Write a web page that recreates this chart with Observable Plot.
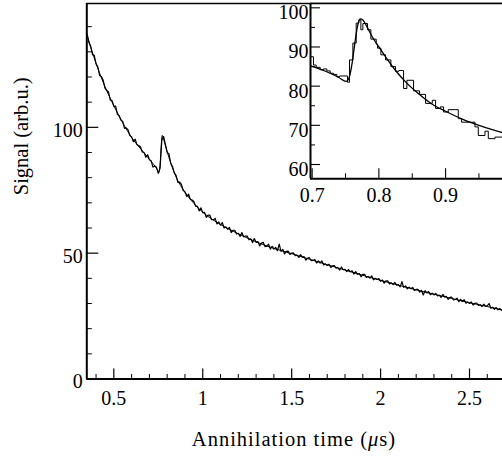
<!DOCTYPE html>
<html><head><meta charset="utf-8">
<script src="https://cdn.jsdelivr.net/npm/d3@7"></script>
<script src="https://cdn.jsdelivr.net/npm/@observablehq/plot@0.6"></script>
<style>
body{margin:0;background:#fff;}
#wrap{position:relative;width:502px;height:459px;overflow:hidden;font-family:"Liberation Serif",serif;color:#000;}
#main{position:absolute;left:0;top:0;}
#inset{position:absolute;left:250px;top:0;}
#xtitle{position:absolute;left:86px;top:420px;width:416px;height:39px;line-height:39px;text-align:center;font-size:20.5px;letter-spacing:1px;}
</style></head>
<body>
<div id="wrap"><div id="main"></div><div id="inset"></div><div id="xtitle">Annihilation time (<i>μ</i>s)</div></div>
<script>
// ---- Main panel data (bins every 0.01 µs starting at 0.35 µs) ----
const mainStart = 0.35, mainStep = 0.01;
const mainSignal = [
137.1,133.7,132.2,128.9,128.6,125.2,124.0,120.6,120.2,118.8,
115.6,114.6,114.1,110.8,110.6,108.3,108.4,105.2,104.6,102.8,
102.4,99.6,99.8,99.0,96.7,96.2,94.3,95.3,93.1,92.8,
92.2,90.2,90.0,88.1,89.1,87.1,86.7,84.2,84.6,84.1,
81.7,83.8,95.0,96.3,93.2,90.0,89.5,85.6,84.4,81.9,
80.9,78.1,78.2,77.3,74.9,74.4,72.5,73.5,71.4,71.1,
70.5,68.6,68.6,66.8,68.0,66.1,66.2,64.2,65.1,65.1,
63.3,63.3,63.8,61.6,62.4,61.1,62.2,60.0,60.4,59.5,
60.2,58.2,59.1,59.1,57.6,57.9,56.6,58.2,56.5,56.8,
56.8,55.3,55.7,54.2,55.8,54.3,54.6,52.9,54.0,54.3,
52.6,52.8,53.6,51.6,52.7,51.6,52.3,51.0,53.6,50.7,
51.5,49.7,50.7,50.8,49.5,50.0,50.1,49.0,49.2,48.3,
49.4,48.4,48.6,47.2,48.0,48.2,47.0,47.1,47.5,46.1,
46.9,46.1,46.9,45.3,45.7,45.1,45.6,44.3,45.0,45.1,
44.0,44.2,43.3,44.5,43.4,43.6,42.7,43.5,42.6,43.0,
41.7,42.7,41.6,41.9,40.6,41.6,41.6,40.3,40.7,40.1,
41.0,39.4,40.0,39.5,39.9,38.8,39.3,38.1,39.0,39.0,
37.8,38.2,37.5,38.4,37.3,37.5,36.6,38.7,36.4,37.0,
35.8,36.5,35.9,36.4,35.2,35.6,35.6,34.5,35.2,33.4,
35.1,34.2,34.8,33.5,34.1,33.4,34.0,33.0,33.3,32.4,
33.6,32.6,32.8,31.6,32.4,32.5,31.4,31.6,32.1,30.7,
31.6,30.8,31.5,30.1,30.6,30.0,30.6,29.4,30.1,30.2,
29.2,29.5,28.8,29.7,28.9,29.1,30.0,28.1,28.5,27.7,
28.4,27.5,28.0,27.3
];
const fitTime = [0.348,0.40,0.45,0.50,0.55,0.60,0.65,0.70,0.75,0.752,0.76,0.765,0.772,0.78,0.80,0.85,0.90,0.95,1.00,1.10,1.20,1.30,1.40,1.50,1.60,1.70,1.80,1.90,2.00,2.10,2.20,2.30,2.40,2.50,2.60,2.686];
const fitSignal = [136.8,125.4,116.2,108.6,101.8,96.0,91.5,87.3,82.3,82.0,85.0,91.0,96.8,95.2,90.3,80.3,74.2,69.8,66.3,61.4,57.7,54.5,51.9,49.8,47.6,45.4,43.3,41.2,39.2,37.3,35.4,33.7,32.0,30.3,28.8,27.4];

// ---- Inset data ----
const insetHistTime = [0.6975,0.702,0.706,0.712,0.717,0.722,0.727,0.732,0.737,0.741,0.753,0.756,0.761,0.766,0.770,0.773,0.776,0.783,0.788,0.796,0.798,0.803,0.810,0.818,0.825,0.830,0.837,0.842,0.852,0.861,0.870,0.880,0.885,0.892,0.897,0.904,0.919,0.924,0.944,0.949,0.959,0.964,0.974,0.986];
const insetHistSignal = [87.5,85.4,84.8,84.2,84.4,83.9,83.3,83.0,82.4,82.6,81.0,86.7,91.0,96.1,96.9,94.4,96.0,94.4,92.0,90.7,89.7,88.0,86.7,85.0,83.8,84.0,79.4,81.5,78.8,77.9,75.6,76.4,74.3,74.7,73.4,74.0,71.7,70.8,69.6,67.4,68.5,66.6,67.0,67.0];
const insetFitTime = [0.6975,0.72,0.74,0.751,0.756,0.760,0.764,0.768,0.772,0.776,0.782,0.79,0.80,0.81,0.825,0.84,0.86,0.88,0.90,0.925,0.95,0.97,0.986];
const insetFitSignal = [85.2,83.8,82.2,81.2,82.5,86.0,91.0,95.3,97.2,96.9,95.2,92.6,90.0,87.5,84.0,81.1,78.0,75.4,73.6,71.6,70.0,68.9,68.1];

// ---- Ticks ----
const xMajor = [0.5,1,1.5,2,2.5];
const xMinor = [0.4,0.6,0.7,0.8,0.9,1.1,1.2,1.3,1.4,1.6,1.7,1.8,1.9,2.1,2.2,2.3,2.4,2.6];
const yMajor = [0,50,100];
const yMinor = [10,20,30,40,60,70,80,90,110,120,130,140];
const insetXMajor = [0.7,0.8,0.9];
const insetXMinor = [0.75,0.85,0.95];
const insetYMajor = [60,70,80,90,100];
const insetYMinor = [65,75,85,95];

const mainData = mainSignal.map((v,i)=>({t:+(mainStart+i*mainStep).toFixed(2), v}));
const fitData = fitTime.map((t,i)=>({t, v:fitSignal[i]}));
const histData = insetHistTime.map((t,i)=>({t, v:insetHistSignal[i]}));
const insetFit = insetFitTime.map((t,i)=>({t, v:insetFitSignal[i]}));

const font = {fontFamily:"Liberation Serif, serif", fontSize:"20px", background:"transparent", color:"#000", overflow:"visible"};

// Main plot
const W = 502, H = 420, mL = 86.3, mT = 3, mB = H - 378.5, mR = 0;
const xD = [0.348, 2.6855], yD = [0, 149.2];
const iw = W - mL - mR, ih = H - mT - mB;
const main = Plot.plot({
  width: W, height: H, marginLeft: mL, marginTop: mT, marginBottom: mB, marginRight: mR,
  style: font,
  x: {domain: xD}, y: {domain: yD},
  marks: [
    Plot.ruleX(xMajor, {x: d=>d, insetTop: ih - 10, strokeWidth: 1.2}),
    Plot.ruleX(xMinor, {x: d=>d, insetTop: ih - 4.5, strokeWidth: 1}),
    Plot.ruleY(yMajor, {y: d=>d, insetRight: iw - 12, strokeWidth: 1.2}),
    Plot.ruleY(yMinor, {y: d=>d, insetRight: iw - 5.5, strokeWidth: 1}),
    Plot.ruleX([xD[0]], {strokeWidth: 2}),
    Plot.ruleY([yD[0]], {strokeWidth: 2}),
    Plot.ruleY([yD[1]], {strokeWidth: 1.3}),
    Plot.axisX(xMajor, {tickSize: 0, tickPadding: 12, tickFormat: d=>String(d), label: null}),
    Plot.axisY(yMajor, {tickSize: 0, tickPadding: 4, dy: 3, tickFormat: d=>String(d), label: null}),
    Plot.line(fitData, {x:"t", y:"v", curve:"monotone-x", stroke:"#000", strokeWidth: 1, clip: true}),
    Plot.line(mainData, {x:"t", y:"v", stroke:"#000", strokeWidth: 1.2, clip: true}),
    Plot.text(["Signal (arb.u.)"], {text: d=>d, frameAnchor:"left", rotate:-90, dx:-65, dy:4, fontSize: 20.5})
  ]
});
document.getElementById("main").appendChild(main);

// Inset plot
const IW = 252, IH = 210, iL = 60, iT = 3, iB = IH - 178.3;
const ixD = [0.6975, 0.9853], iyD = [56.35, 101.1];
const iiw = IW - iL, iih = IH - iT - iB;
const inset = Plot.plot({
  width: IW, height: IH, marginLeft: iL, marginTop: iT, marginBottom: iB, marginRight: 0,
  style: font,
  x: {domain: ixD}, y: {domain: iyD},
  marks: [
    Plot.frame({fill: "white", stroke: null}),
    Plot.line(insetFit, {x:"t", y:"v", curve:"monotone-x", stroke:"#000", strokeWidth: 1.3, clip: true}),
    Plot.line(histData, {x:"t", y:"v", curve:"step-after", stroke:"#000", strokeWidth: 1, clip: true}),
    Plot.ruleX(insetXMajor, {x: d=>d, insetTop: iih - 10, strokeWidth: 1.1}),
    Plot.ruleX(insetXMinor, {x: d=>d, insetTop: iih - 5, strokeWidth: 1}),
    Plot.ruleY(insetYMajor, {y: d=>d, insetRight: iiw - 10, strokeWidth: 1.1}),
    Plot.ruleY(insetYMinor, {y: d=>d, insetRight: iiw - 5, strokeWidth: 1}),
    Plot.ruleX([ixD[0]], {strokeWidth: 2}),
    Plot.ruleY([iyD[0]], {strokeWidth: 2}),
    Plot.ruleY([iyD[1]], {strokeWidth: 1.3}),
    Plot.axisX(insetXMajor, {tickSize: 0, tickPadding: 9, tickFormat: d=>String(d), label: null}),
    Plot.axisY(insetYMajor, {tickSize: 0, tickPadding: 2, dy: 5, tickFormat: d=>String(d), label: null})
  ]
});
document.getElementById("inset").appendChild(inset);
</script>
</body></html>
